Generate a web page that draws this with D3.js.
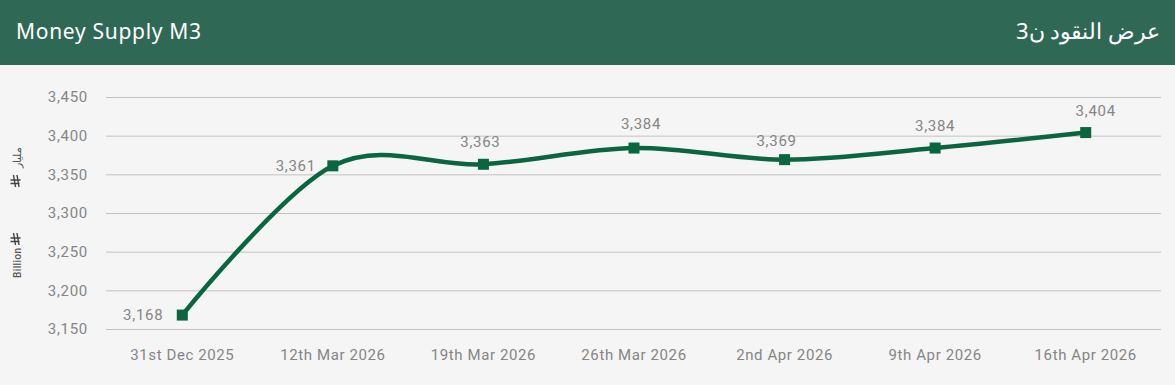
<!DOCTYPE html>
<html>
<head>
<meta charset="utf-8">
<script src="https://cdn.jsdelivr.net/npm/d3@7"></script>
<style>
html, body { margin: 0; padding: 0; background: #f5f5f5; }
svg { display: block; }
</style>
</head>
<body>
<div id="chart"></div>
<script>
const categories = ["31st Dec 2025", "12th Mar 2026", "19th Mar 2026", "26th Mar 2026", "2nd Apr 2026", "9th Apr 2026", "16th Apr 2026"];
const values = [3168, 3361, 3363, 3384, 3369, 3384, 3404];
const yTicks = [3150, 3200, 3250, 3300, 3350, 3400, 3450];
const titleEn = "Money Supply M3";
const titleAr = "عرض النقود ن3";

const width = 1175, height = 385, headerH = 65;
const margin = {top: 97, right: 14, bottom: 56, left: 106};
const green = "#0a6640";
const grey = "#858585";

// value labels don't sit at a fixed distance from their points
const labelShift = [[-19, 5], [-17, 5], [-3, -17], [7, -19], [-8, -14], [0, -17], [10, -17]];

let svg = d3.select("#chart").append("svg")
    .attr("width", width)
    .attr("height", height);

svg.append("rect").attr("width", width).attr("height", height).attr("fill", "#f5f5f5");

// header band
svg.append("rect").attr("width", width).attr("height", headerH).attr("fill", "#2f6955");
svg.append("text")
    .attr("x", 16).attr("y", 39)
    .attr("fill", "#fff")
    .style("font", "400 21px 'Noto Sans'")
    .style("letter-spacing", "0.7px")
    .text(titleEn);
svg.append("text")
    .attr("x", 1160).attr("y", 39)
    .attr("text-anchor", "start")
    .attr("direction", "rtl")
    .attr("fill", "#fff")
    .style("font", "400 22px 'Noto Sans'")
    .text(titleAr);

let x = d3.scaleBand()
    .domain(categories)
    .range([margin.left + 1, width - margin.right]);

let y = d3.scaleLinear()
    .domain([3150, 3450])
    .range([height - margin.bottom, margin.top]);

// y axis with gridlines
let yAxis = svg.append("g")
    .attr("transform", "translate(" + margin.left + ",0)")
    .call(d3.axisLeft(y).tickValues(yTicks).tickFormat(d3.format(",")).tickSize(-(width - margin.left - margin.right)).tickPadding(18));
yAxis.select(".domain").remove();
yAxis.selectAll("line").attr("stroke", "#c2c2c2").attr("stroke-width", 1);
yAxis.selectAll("text")
    .attr("fill", grey)
    .style("font", "400 15px Roboto")
    .style("letter-spacing", "0.7px");

// x axis
let xAxis = svg.append("g")
    .attr("transform", "translate(0," + (height - margin.bottom) + ")")
    .call(d3.axisBottom(x).tickSize(0).tickPadding(20));
xAxis.select(".domain").remove();
xAxis.selectAll("text")
    .attr("fill", grey)
    .style("font", "400 15px Roboto")
    .style("letter-spacing", "0.6px");

let cx = (d, i) => x(categories[i]) + x.bandwidth() / 2;

let line = d3.line()
    .x(cx)
    .y(d => y(d))
    .curve(d3.curveCatmullRom.alpha(0));

svg.append("path")
    .datum(values)
    .attr("d", line)
    .attr("fill", "none")
    .attr("stroke", green)
    .attr("stroke-width", 4.5);

// markers
svg.append("g").selectAll("rect")
    .data(values)
    .enter()
    .append("rect")
    .attr("x", (d, i) => cx(d, i) - 5.5)
    .attr("y", d => y(d) - 5.5)
    .attr("width", 11)
    .attr("height", 11)
    .attr("fill", green);

// value labels
svg.append("g").selectAll("text")
    .data(values)
    .enter()
    .append("text")
    .attr("x", (d, i) => cx(d, i) + labelShift[i][0])
    .attr("y", (d, i) => y(d) + labelShift[i][1])
    .attr("text-anchor", (d, i) => i < 2 ? "end" : "middle")
    .attr("fill", grey)
    .style("font", "400 15px Roboto")
    .style("letter-spacing", "0.7px")
    .text(d3.format(","));

// the riyal sign isn't in any installed font, so it is drawn by hand
function riyal(px, py) {
    let g = svg.append("g")
        .attr("transform", "translate(" + px + "," + py + ") rotate(-90)")
        .attr("stroke", "#444")
        .attr("stroke-width", 1.4)
        .attr("fill", "none");
    g.append("path").attr("d", "M-2.5,-5.5V3.5M1,-5.5V4.5M-6,-0.5L6,-2.5M-6,3L6,1");
}

// unit captions, rotated along the left edge
svg.append("text")
    .attr("transform", "translate(21,278) rotate(-90)")
    .attr("fill", "#555")
    .style("font", "500 10px Roboto")
    .style("letter-spacing", "0.4px")
    .text("Billion");
riyal(16, 239);
svg.append("text")
    .attr("transform", "translate(21,168) rotate(-90)")
    .attr("fill", "#555")
    .style("font", "500 11px 'Noto Sans'")
    .text("مليار");
riyal(16, 181);
</script>
</body>
</html>
